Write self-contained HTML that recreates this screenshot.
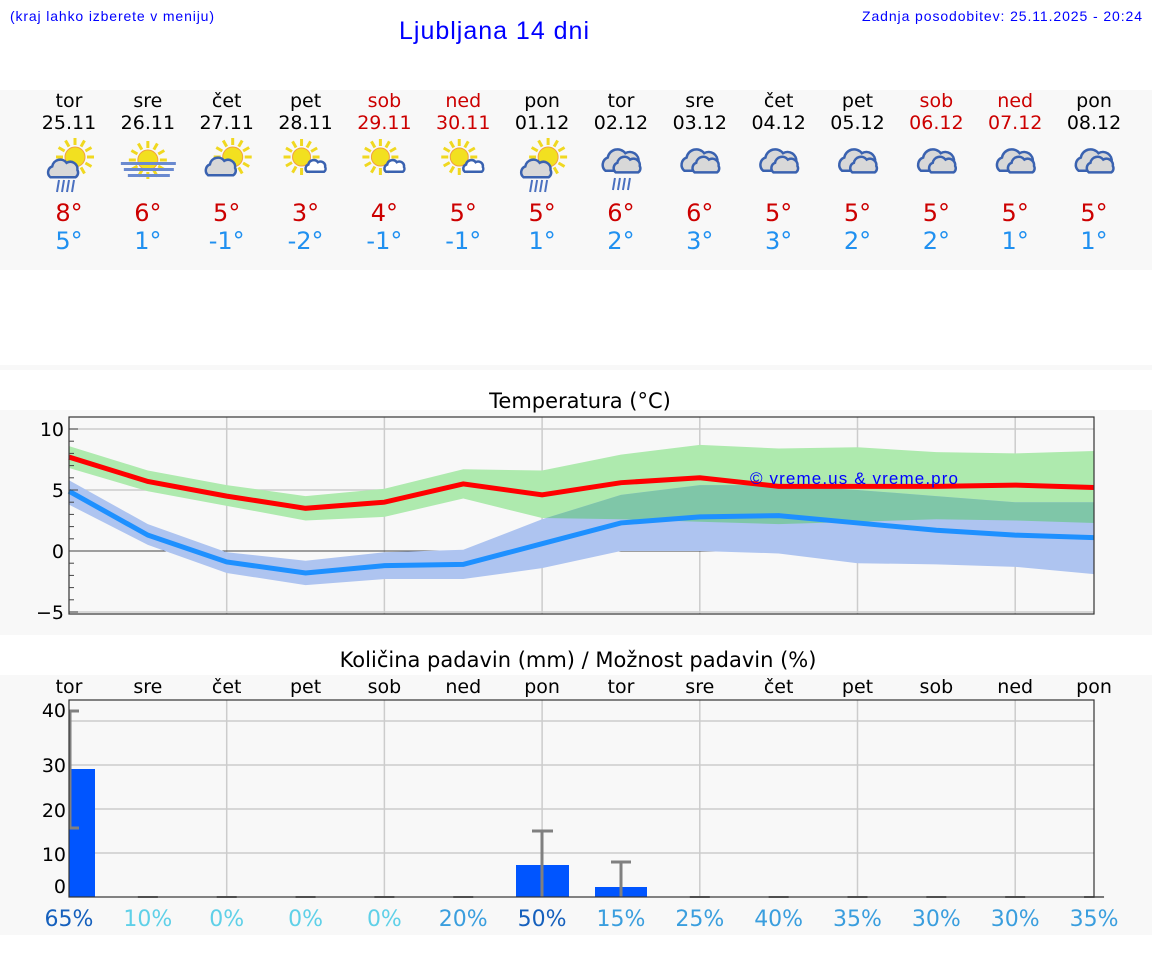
<!DOCTYPE html>
<html><head><meta charset="utf-8">
<style>
body{margin:0;width:1152px;height:975px;background:#fff;font-family:"DejaVu Sans","Liberation Sans",sans-serif;overflow:hidden;position:relative}
svg{position:absolute;left:0;top:0}
</style></head><body>
<svg id="s" width="1152" height="975" xmlns="http://www.w3.org/2000/svg" font-family="DejaVu Sans, Liberation Sans, sans-serif">
<rect x="0" y="90" width="1152" height="180" fill="#f8f8f8"/>
<rect x="0" y="365" width="1152" height="5" fill="#f8f8f8"/>
<rect x="0" y="410" width="1152" height="225" fill="#f8f8f8"/>
<rect x="0" y="675" width="1152" height="260" fill="#f8f8f8"/>
<text x="10" y="21" font-size="14" fill="#0000ff" font-family="Liberation Sans, sans-serif" textLength="204">(kraj lahko izberete v meniju)</text>
<text x="494" y="39" font-size="25" fill="#0000ff" text-anchor="middle" font-family="Liberation Sans, sans-serif" textLength="190">Ljubljana 14 dni</text>
<text x="862" y="21" font-size="14" fill="#0000ff" font-family="Liberation Sans, sans-serif" textLength="280">Zadnja posodobitev: 25.11.2025 - 20:24</text>
<text x="580" y="408" font-size="21" text-anchor="middle">Temperatura (°C)</text>
<text x="578" y="667" font-size="21" text-anchor="middle">Količina padavin (mm) / Možnost padavin (%)</text>
<g id="g"></g>
</svg>
<script>
const g=document.getElementById('g');let h='';
const X=i=>69+78.85*i;
const names=['tor','sre','čet','pet','sob','ned','pon','tor','sre','čet','pet','sob','ned','pon'];
const dates=['25.11','26.11','27.11','28.11','29.11','30.11','01.12','02.12','03.12','04.12','05.12','06.12','07.12','08.12'];
const mx=[8,6,5,3,4,5,5,6,6,5,5,5,5,5],mn=[5,1,-1,-2,-1,-1,1,2,3,3,2,2,1,1];
const red=[4,5,11,12];
function sun(cx,cy,r){let s='';for(let k=0;k<12;k++){const a=k*Math.PI/6;s+=`<line x1="${cx+Math.cos(a)*(r+2)}" y1="${cy+Math.sin(a)*(r+2)}" x2="${cx+Math.cos(a)*(r+9)}" y2="${cy+Math.sin(a)*(r+9)}" stroke="#f0d820" stroke-width="3"/>`;}return s+`<circle cx="${cx}" cy="${cy}" r="${r}" fill="#f2e020" stroke="#f0a040" stroke-width="1"/>`;}
function cloud(cx,cy,sc,fill){return `<g transform="translate(${cx},${cy}) scale(${sc})"><path d="M-14,8 A7,7 0 0 1 -12,-4 A9,9 0 0 1 4,-8 A8,8 0 0 1 16,0 A6,6 0 0 1 14,8 Z" fill="${fill}" stroke="#3a62b0" stroke-width="${2.5/sc}"/></g>`;}
function rain(cx,cy){let s='';for(let k=0;k<4;k++)s+=`<line x1="${cx+k*5}" y1="${cy}" x2="${cx+k*5-2}" y2="${cy+12}" stroke="#4a70c0" stroke-width="2"/>`;return s;}
for(let i=0;i<14;i++){const x=X(i);const c=red.includes(i)?'#cc0000':'#000';
h+=`<text x="${x}" y="107" font-size="19" text-anchor="middle" fill="${c}">${names[i]}</text>`;
h+=`<text x="${x}" y="129" font-size="19" text-anchor="middle" fill="${c}">${dates[i]}</text>`;
h+=`<text x="${x}" y="221" font-size="24" text-anchor="middle" fill="#cc0000">${mx[i]}°</text>`;
h+=`<text x="${x}" y="249" font-size="24" text-anchor="middle" fill="#2090f0">${mn[i]}°</text>`;
if(i==0||i==6){h+=sun(x+6,157,10)+cloud(x-6,170,0.9,'#d8d8d8')+rain(x-10,180);}
else if(i==1){h+=sun(x,160,10)+`<rect x="${x-27}" y="162" width="55" height="3" fill="#6a8ad0"/><rect x="${x-24}" y="168" width="50" height="3" fill="#6a8ad0"/><rect x="${x-20}" y="174" width="42" height="3" fill="#6a8ad0"/>`;}
else if(i==2){h+=sun(x+6,157,10)+cloud(x-6,168,0.9,'#d8d8d8');}
else if(i>=3&&i<=5){h+=sun(x-4,157,9)+cloud(x+10,167,0.6,'#fff');}
else{h+=cloud(x,162,1.1,'#d8d8d8')+cloud(x+6,166,0.8,'#d8d8d8');if(i==7)h+=rain(x-6,178);}
}
const T=t=>551-12.2*t;
h+=`<rect x="69" y="417" width="1025" height="197" fill="#f8f8f8"/>`;
for(let k=1;k<7;k++)h+=`<line x1="${X(2*k)}" y1="417" x2="${X(2*k)}" y2="614" stroke="#ccc" stroke-width="1.5"/>`;
[10,5,-5].forEach(t=>h+=`<line x1="69" y1="${T(t)}" x2="1094" y2="${T(t)}" stroke="#ccc" stroke-width="1.5"/>`);
h+=`<line x1="69" y1="${T(0)}" x2="1094" y2="${T(0)}" stroke="#444" stroke-width="1"/>`;
const band=(u,l)=>{let p=u.map((v,i)=>`${X(i)},${T(v)}`).join(' ');p+=' '+l.map((v,i)=>`${X(i)},${T(v)}`).reverse().join(' ');return p;};
const gu=[8.6,6.6,5.4,4.5,5.1,6.7,6.6,7.9,8.7,8.4,8.5,8.1,8.0,8.2],gl=[6.8,4.9,3.7,2.5,2.8,4.3,2.7,2.6,2.4,2.2,2.4,2.6,2.5,2.3];
const bu=[5.8,2.2,-0.1,-0.8,-0.1,0.1,2.6,4.6,5.4,5.4,5.0,4.5,4.0,4.0],bl=[3.8,0.5,-1.8,-2.8,-2.3,-2.3,-1.4,0,0,-0.2,-1.0,-1.1,-1.3,-1.9];
h+=`<defs><clipPath id="cb"><polygon points="${band(bu,bl)}"/></clipPath></defs>`;
h+=`<polygon points="${band(gu,gl)}" fill="#aeeaae"/>`;
h+=`<polygon points="${band(bu,bl)}" fill="#aec4f0"/>`;
h+=`<polygon points="${band(gu,gl)}" fill="#7fc6a8" clip-path="url(#cb)"/>`;
const rl=[7.7,5.7,4.5,3.5,4.0,5.5,4.6,5.6,6.0,5.3,5.3,5.3,5.4,5.2],bln=[4.9,1.3,-0.9,-1.8,-1.2,-1.1,0.6,2.3,2.8,2.9,2.3,1.7,1.3,1.1];
h+=`<polyline points="${rl.map((v,i)=>X(i)+','+T(v)).join(' ')}" fill="none" stroke="#ff0000" stroke-width="5"/>`;
h+=`<polyline points="${bln.map((v,i)=>X(i)+','+T(v)).join(' ')}" fill="none" stroke="#1e90ff" stroke-width="5"/>`;
h+=`<text x="750" y="484" font-size="17" fill="#0000ff" font-family="Liberation Sans, sans-serif" textLength="208">© vreme.us &amp; vreme.pro</text>`;
h+=`<rect x="69" y="417" width="1025" height="197" fill="none" stroke="#333" stroke-width="1.2"/>`;
for(let t=-5;t<=10;t++)h+=`<line x1="69" y1="${T(t)}" x2="${t%5==0?78:74}" y2="${T(t)}" stroke="#444" stroke-width="1"/>`;
[10,5,0,-5].forEach(t=>h+=`<text x="64" y="${T(t)+7}" font-size="19" text-anchor="end">${t<0?'−5':t}</text>`);
const P=v=>897-4.4*v;
for(let i=0;i<14;i++)h+=`<text x="${X(i)}" y="693" font-size="19" text-anchor="middle">${names[i]}</text>`;
h+=`<rect x="69" y="700" width="1025" height="197" fill="#f8f8f8"/>`;
for(let k=1;k<7;k++)h+=`<line x1="${X(2*k)}" y1="700" x2="${X(2*k)}" y2="897" stroke="#ccc" stroke-width="1.5"/>`;
[10,20,30,40].forEach(v=>h+=`<line x1="69" y1="${P(v)}" x2="1094" y2="${P(v)}" stroke="#ccc" stroke-width="1.5"/>`);
h+=`<rect x="69" y="769" width="26" height="128" fill="#0055ff"/>`;
h+=`<rect x="516" y="865" width="53" height="32" fill="#0055ff"/>`;
h+=`<rect x="595" y="887" width="52" height="10" fill="#0055ff"/>`;
h+=`<g stroke="#808080" stroke-width="3"><line x1="70" y1="710" x2="70" y2="828"/><line x1="69" y1="711" x2="79" y2="711"/><line x1="69" y1="828" x2="79" y2="828"/>
<line x1="542" y1="897" x2="542" y2="831"/><line x1="532" y1="831" x2="553" y2="831"/><line x1="621" y1="897" x2="621" y2="862"/><line x1="611" y1="862" x2="631" y2="862"/></g>`;
for(let i=1;i<14;i++)if(i!=6&&i!=7)h+=`<line x1="${X(i)-10}" y1="897" x2="${X(i)+10}" y2="897" stroke="#777" stroke-width="2"/>`;
h+=`<rect x="69" y="700" width="1025" height="197" fill="none" stroke="#333" stroke-width="1.2"/>`;
[[40,717],[30,772],[20,817],[10,861],[0,893]].forEach(([v,y])=>h+=`<text x="66" y="${y}" font-size="19" text-anchor="end">${v}</text>`);
const pc=['65%','10%','0%','0%','0%','20%','50%','15%','25%','40%','35%','30%','30%','35%'];
const pcol=['#1560bd','#5fd0e8','#5fd0e8','#5fd0e8','#5fd0e8','#3a9ede','#1560bd','#3a9ede','#3a9ede','#3a9ede','#3a9ede','#3a9ede','#3a9ede','#3a9ede'];
for(let i=0;i<14;i++)h+=`<text x="${X(i)}" y="926" font-size="22" text-anchor="middle" fill="${pcol[i]}">${pc[i]}</text>`;
g.innerHTML=h;
</script>
</body></html>
